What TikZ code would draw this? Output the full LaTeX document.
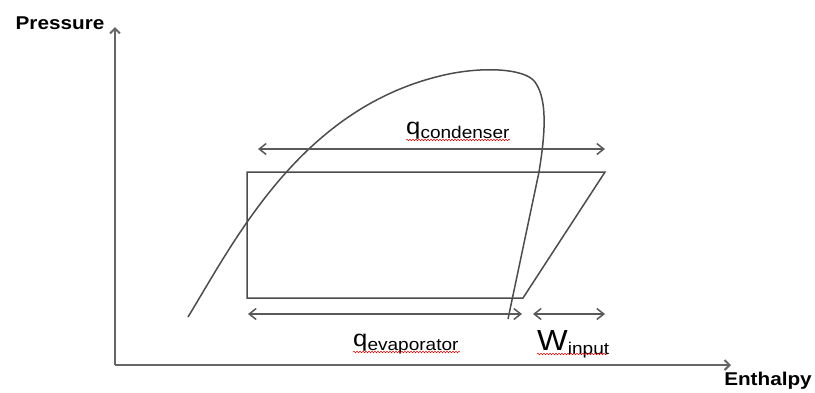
\documentclass[tikz,border=0pt]{standalone}
\usepackage{fontspec}
\setmainfont{Liberation Sans}[FakeStretch=1.12]
\usetikzlibrary{arrows.meta,decorations.pathmorphing}
\tikzset{
  cycleline/.style={draw=black!70, line width=1.5pt},
  axisline/.style={draw=black!60, line width=2pt, -{Straight Barb[length=5pt,width=10pt]}},
  heatarrow/.style={draw=black!65, line width=1.5pt, {Straight Barb[length=7pt,width=11pt]}-{Straight Barb[length=7pt,width=11pt]}},
  spellmark/.style={draw=red!85!black, line width=0.5pt, decorate, decoration={snake, amplitude=0.8pt, segment length=3pt}},
  axislabel/.style={font=\bfseries\fontsize{18.5}{20}\selectfont, inner sep=0pt},
  flowlabel/.style={anchor=base west, inner sep=0pt},
}
\newcommand{\qlabel}[3]{{\fontsize{#2}{#2}\selectfont #1}\raisebox{-4pt}{\fontsize{17}{17}\selectfont #3}}
\begin{document}
\begin{tikzpicture}[x=1pt, y=-1pt]
  \useasboundingbox (0,0) rectangle (815,392);
  \coordinate (origin) at (115,365);
  \coordinate (ptip) at (115,27);
  \coordinate (htip) at (731,365);
  \draw[axisline] (origin) -- (ptip);
  \draw[axisline] (origin) -- (htip);
  \node[axislabel] (pressure) at (60,23) {Pressure};
  \node[axislabel] (enthalpy) at (768,381) {Enthalpy};

  \draw[cycleline] (188,317) .. controls (235,240) and (300,110) .. (440,76)
    .. controls (480,66) and (525,68) .. (535,82)
    .. controls (548,100) and (545,135) .. (539,172) -- (508,319);

  \coordinate (cyc1) at (247,172);
  \coordinate (cyc2) at (605,172);
  \coordinate (cyc3) at (523,298);
  \coordinate (cyc4) at (247,298);
  \draw[cycleline] (cyc1) -- (cyc2) -- (cyc3) -- (cyc4) -- cycle;

  \coordinate (condL) at (258,149);
  \coordinate (condR) at (605,149);
  \coordinate (evapL) at (248,314);
  \coordinate (evapR) at (522,314);
  \coordinate (workL) at (533,314);
  \coordinate (workR) at (605,314);
  \draw[heatarrow] (condL) -- (condR);
  \draw[heatarrow] (evapL) -- (evapR);
  \draw[heatarrow] (workL) -- (workR);

  \node[flowlabel] (qcond) at (406,134) {\qlabel{q}{23}{condenser}};
  \node[flowlabel] (qevap) at (353,346) {\qlabel{q}{23}{evaporator}};
  \node[flowlabel] (win) at (537,350) {\qlabel{W}{29}{input}};

  \draw[spellmark] (406,140) -- (510,140);
  \draw[spellmark] (353,352) -- (460,352);
  \draw[spellmark] (537,354) -- (607,354);
\end{tikzpicture}
\end{document}
